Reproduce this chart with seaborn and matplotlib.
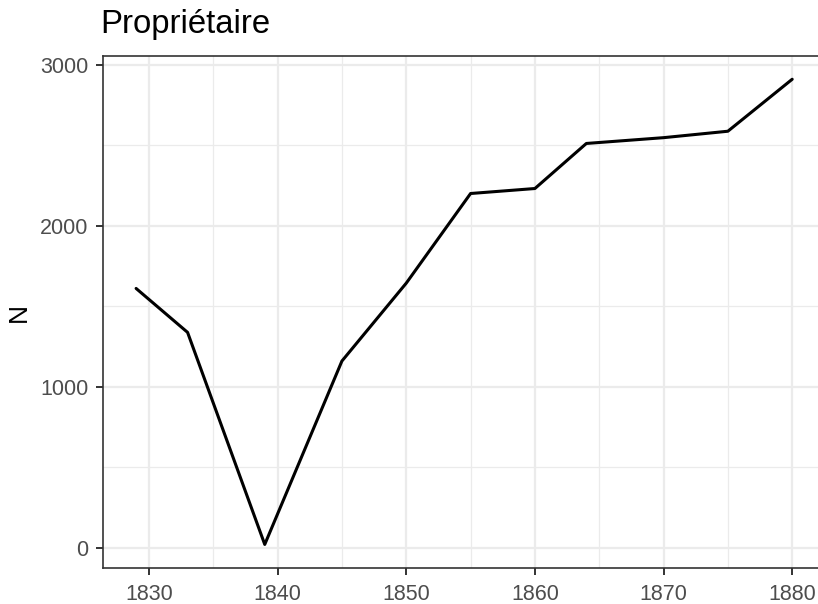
import numpy as np
import pandas as pd
import matplotlib
matplotlib.use("Agg")
import matplotlib.pyplot as plt
import seaborn as sns
from matplotlib.ticker import MultipleLocator

# data
years = [1829, 1833, 1839, 1845, 1850, 1855, 1860, 1864, 1870, 1875, 1880]
counts = [1611, 1338, 20, 1160, 1644, 2201, 2232, 2512, 2548, 2588, 2911]
title = "Propriétaire"
y_label = "N"

df = pd.DataFrame({"annee": years, "N": counts})

sns.set_theme(style="white")
plt.rcParams['font.family'] = ['Liberation Sans', 'DejaVu Sans']

fig = plt.figure(figsize=(8.18, 6.04), dpi=100)
W, H = 818, 604
left, right, top, bottom = 103.3, 825.0, 56.0, 567.7
ax = fig.add_axes([left / W, (H - bottom) / H, (right - left) / W, (bottom - top) / H])

sns.lineplot(data=df, x="annee", y="N", ax=ax, color="black", linewidth=2.2)

# ggplot-like expansion (5%)
xr = max(years) - min(years)
yr = max(counts) - min(counts)
ax.set_xlim(min(years) - 0.05 * xr, max(years) + 0.05 * xr)
ax.set_ylim(min(counts) - 0.05 * yr, max(counts) + 0.05 * yr)

ax.xaxis.set_major_locator(MultipleLocator(10))
ax.xaxis.set_minor_locator(MultipleLocator(5))
ax.yaxis.set_major_locator(MultipleLocator(1000))
ax.yaxis.set_minor_locator(MultipleLocator(500))

ax.grid(which="major", color="#EBEBEB", linewidth=1.6)
ax.grid(which="minor", color="#EBEBEB", linewidth=0.9)
ax.set_axisbelow(True)

for s in ax.spines.values():
    s.set_color("#333333")
    s.set_linewidth(1.2)
    s.set_visible(True)

ax.tick_params(which="major", length=5, width=1.4, color="#333333",
               labelsize=15.5, labelcolor="#4D4D4D", bottom=True, left=True)
ax.tick_params(axis="x", which="major", pad=6.5)
ax.tick_params(axis="y", which="major", pad=5.5)
ax.tick_params(which="minor", length=0)

ax.set_xlabel("")
ax.set_ylabel("")

fig.text(100 / W, 1 - 33 / H, title, fontsize=23.7, ha="left", va="baseline", color="black")
fig.text(19 / W, 1 - 312 / H, y_label, fontsize=19, rotation=90, ha="center", va="center", color="black")

fig.savefig("out.png", dpi=100)
